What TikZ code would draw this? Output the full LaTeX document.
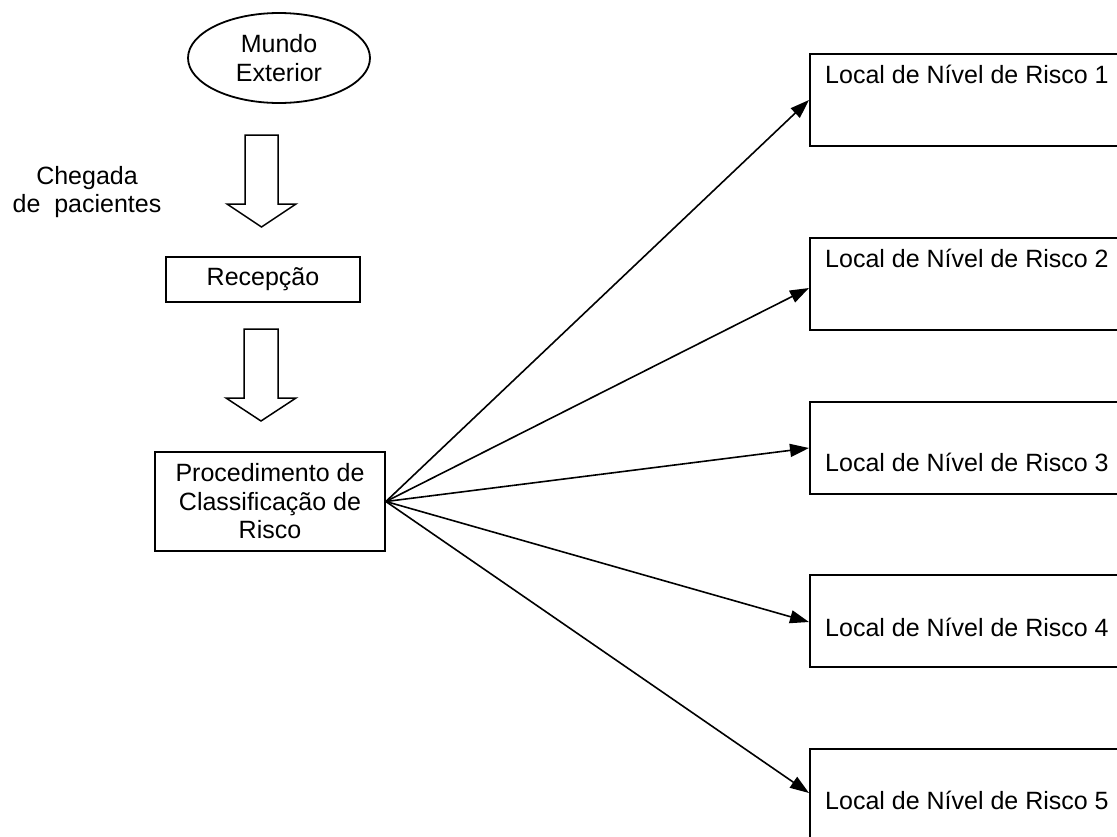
\documentclass[tikz,border=0pt]{standalone}
\usepackage{fontspec}
\setmainfont{Liberation Sans}
\usetikzlibrary{arrows.meta,shapes.geometric}
\begin{document}
\begin{tikzpicture}[x=1pt,y=-1pt,
  every node/.style={font=\fontsize{25}{28.5}\selectfont},
  box/.style={draw,line width=1.8pt,inner sep=0pt},
  rbox/.style={box,minimum width=340pt,minimum height=92pt,anchor=north west},
  lbl/.style={anchor=base west,inner sep=0pt},
  blockarrow/.style={draw,line width=1.5pt,fill=white,line join=miter},
  conn/.style={line width=1.6pt,-{Triangle[length=19pt,width=13pt]}}
]
\useasboundingbox (0,0) rectangle (1117,836);
\clip (0,0) rectangle (1117,836);

% left column
\node[draw,ellipse,line width=1.8pt,minimum width=182pt,minimum height=90pt,inner sep=0pt,align=center] (mundo) at (279,58) {Mundo\\Exterior};
\node[align=center,inner sep=0pt] (chegada) at (87,192) {Chegada\\de~~pacientes};
\node[box,minimum width=194pt,minimum height=45pt] (rec) at (263,279.5) {Recepção};
\node[box,minimum width=230pt,minimum height=99pt,align=center] (proc) at (270,501.5) {Procedimento de\\Classificação de\\Risco};

% block arrows
\draw[blockarrow] (245,135) -- (278,135) -- (278,204) -- (296,204) -- (261.5,227) -- (227,204) -- (245,204) -- cycle;
\draw[blockarrow] (244,329) -- (278,329) -- (278,398) -- (296,398) -- (261,421) -- (226,398) -- (244,398) -- cycle;

% right boxes
\node[rbox] (r1) at (809,53) {};
\node[rbox] (r2) at (809,237) {};
\node[rbox] (r3) at (809,401) {};
\node[rbox] (r4) at (809,574) {};
\node[rbox] (r5) at (809,748) {};
\node[lbl] (l1) at (825,83) {Local de Nível de Risco 1};
\node[lbl] (l2) at (825,267) {Local de Nível de Risco 2};
\node[lbl] (l3) at (825,471) {Local de Nível de Risco 3};
\node[lbl] (l4) at (825,636) {Local de Nível de Risco 4};
\node[lbl] (l5) at (825,809) {Local de Nível de Risco 5};

% arrow targets on the boxes' left sides
\coordinate (t1) at (809,100);
\coordinate (t2) at (809,288);
\coordinate (t3) at (809,448);
\coordinate (t4) at (809,622);
\coordinate (t5) at (809,793);

\draw[conn] (proc.east) -- (t1);
\draw[conn] (proc.east) -- (t2);
\draw[conn] (proc.east) -- (t3);
\draw[conn] (proc.east) -- (t4);
\draw[conn] (proc.east) -- (t5);
\end{tikzpicture}
\end{document}
